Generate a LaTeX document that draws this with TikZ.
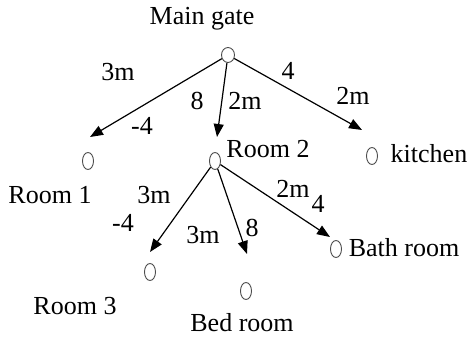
\documentclass[tikz,border=0pt]{standalone}
\usepackage{fontspec}
\setmainfont{Liberation Serif}
\usetikzlibrary{arrows.meta,shapes.geometric}

\begin{document}
\begin{tikzpicture}[x=1pt,y=-1pt,
    spot/.style={draw=black!70, line width=0.9pt, ellipse, inner sep=0pt, minimum width=11pt, minimum height=17pt},
    lbl/.style={anchor=base, inner sep=0pt, font=\fontsize{26}{29}\selectfont},
    arr/.style={-{Triangle[length=13pt,width=10pt]}, line width=1.2pt}
]
\useasboundingbox (0,0) rectangle (472,339);

% places
\node[spot, minimum width=13pt, minimum height=15pt] (gate) at (228,55) {};
\node[spot] (room1) at (88,161) {};
\node[spot] (room2) at (215,161) {};
\node[spot] (kitchen) at (372,156) {};
\node[spot] (room3) at (150,272) {};
\node[spot] (bed) at (246,291) {};
\node[spot] (bath) at (336,249) {};

% names
\node[lbl] (gatetxt) at (202,25) {Main gate};
\node[lbl] (room1txt) at (50,204) {Room 1};
\node[lbl] (room2txt) at (268,158) {Room 2};
\node[lbl] (kitchentxt) at (429,163) {kitchen};
\node[lbl] (room3txt) at (75,315) {Room 3};
\node[lbl] (bedtxt) at (242,332) {Bed room};
\node[lbl] (bathtxt) at (404,257) {Bath room};

% arrow tips
\coordinate (tip1) at (90,137);
\coordinate (tip2) at (217,137);
\coordinate (tipk) at (362,130);
\coordinate (tip3) at (150,252);
\coordinate (tipb) at (247,254);
\coordinate (tipw) at (330,237);

\draw[arr] (gate) -- (tip1);
\draw[arr] (gate) -- (tip2);
\draw[arr] (gate) -- (tipk);
\draw[arr] (room2) -- (tip3);
\draw[arr] (room2) -- (tipb);
\draw[arr] (room2) -- (tipw);

% distances
\node[lbl] (w1a) at (118,81) {3m};
\node[lbl] (w1b) at (142,135) {-4};
\node[lbl] (w2a) at (197,110) {8};
\node[lbl] (w2b) at (245,110) {2m};
\node[lbl] (wka) at (288,80) {4};
\node[lbl] (wkb) at (353,105) {2m};
\node[lbl] (w3a) at (154,204) {3m};
\node[lbl] (w3b) at (123,232) {-4};
\node[lbl] (wba) at (203,244) {3m};
\node[lbl] (wbb) at (252,237) {8};
\node[lbl] (wwa) at (293,198) {2m};
\node[lbl] (wwb) at (318,213) {4};
\end{tikzpicture}
\end{document}
